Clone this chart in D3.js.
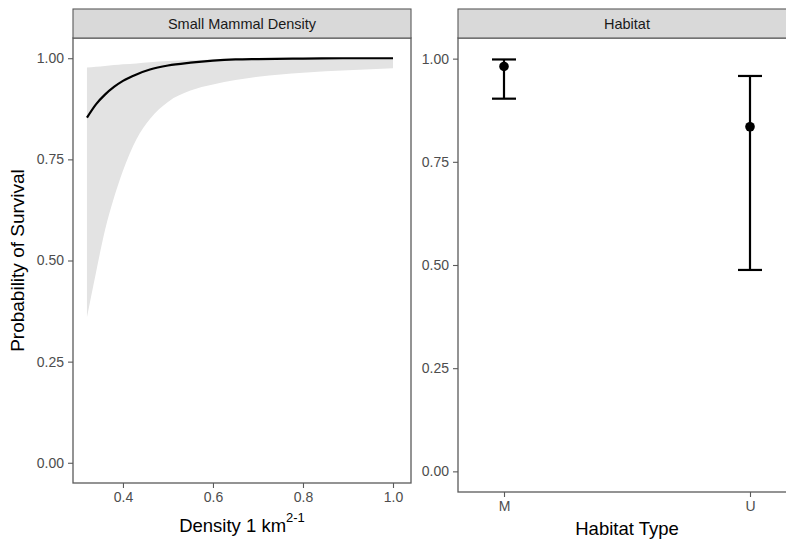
<!DOCTYPE html>
<html>
<head>
<meta charset="utf-8">
<script src="https://cdn.jsdelivr.net/npm/d3@7"></script>
<style>
  html, body { margin: 0; padding: 0; background: #fff; }
  svg { display: block; font-family: "Liberation Sans", Arial, Helvetica, sans-serif; }
</style>
</head>
<body>
<svg id="chart" width="786" height="542"></svg>
<script>
// ---- Data ----
const densityX = [0.32, 0.34, 0.36, 0.38, 0.40, 0.43, 0.46, 0.50, 0.55, 0.60, 0.65, 0.70, 0.80, 0.90, 1.00];
const survivalFit = [0.853, 0.886, 0.910, 0.929, 0.944, 0.960, 0.972, 0.982, 0.989, 0.994, 0.997, 0.998, 0.999, 1.000, 1.000];
const survivalUpper = [0.977, 0.979, 0.981, 0.983, 0.985, 0.987, 0.990, 0.993, 0.995, 0.997, 0.998, 0.999, 1.000, 1.000, 1.000];
const survivalLower = [0.360, 0.470, 0.575, 0.655, 0.722, 0.800, 0.850, 0.892, 0.920, 0.935, 0.946, 0.954, 0.964, 0.970, 0.975];

const habitatTypes = ["M", "U"];
const habitatEstimate = [0.981, 0.835];
const habitatLower = [0.903, 0.488];
const habitatUpper = [0.998, 0.958];

const yTicks = [0, 0.25, 0.5, 0.75, 1.0];
const densityTicks = [0.4, 0.6, 0.8, 1.0];

const stripTitles = ["Small Mammal Density", "Habitat"];

// ---- Setup ----
const svg = d3.select("#chart");
const borderColor = "#5a5a5a";
const tickTextColor = "#4d4d4d";
const fmt = d3.format(".2f");

function drawStrip(x0, x1, y0, y1, label) {
  svg.append("rect").attr("x", x0).attr("y", y0).attr("width", x1 - x0).attr("height", y1 - y0)
    .attr("fill", "#d9d9d9").attr("stroke", borderColor).attr("stroke-width", 1.1);
  svg.append("text").attr("x", (x0 + x1) / 2).attr("y", (y0 + y1) / 2 + 5)
    .attr("text-anchor", "middle").attr("font-size", 14.5).attr("fill", "#1a1a1a").text(label);
}

function styleAxis(g, fontSize) {
  g.selectAll(".domain").remove();
  g.selectAll(".tick line").attr("stroke", borderColor).attr("stroke-width", 1.1);
  g.selectAll(".tick text").attr("fill", tickTextColor).attr("font-size", fontSize)
    .attr("font-family", "\"Liberation Sans\", Arial, Helvetica, sans-serif");
}

// ---- Left panel: Small Mammal Density ----
const L = { x0: 73, x1: 411, y0: 38, y1: 483 };
const xL = d3.scaleLinear().domain([0.289, 1.04]).range([L.x0, L.x1]);
const yL = d3.scaleLinear().domain([-0.05, 1.05]).range([L.y1, L.y0]);

const densData = densityX.map((d, i) => ({ x: d, fit: survivalFit[i], lo: survivalLower[i], hi: survivalUpper[i] }));

svg.append("path").datum(densData)
  .attr("d", d3.area().x(d => xL(d.x)).y0(d => yL(d.lo)).y1(d => yL(d.hi)).curve(d3.curveMonotoneX))
  .attr("fill", "#e3e3e3");
svg.append("path").datum(densData)
  .attr("d", d3.line().x(d => xL(d.x)).y(d => yL(d.fit)).curve(d3.curveMonotoneX))
  .attr("fill", "none").attr("stroke", "#000").attr("stroke-width", 2.2);

svg.append("rect").attr("x", L.x0).attr("y", L.y0).attr("width", L.x1 - L.x0).attr("height", L.y1 - L.y0)
  .attr("fill", "none").attr("stroke", borderColor).attr("stroke-width", 1.3);
drawStrip(L.x0, L.x1, 9, L.y0, stripTitles[0]);

const gyL = svg.append("g").attr("transform", `translate(${L.x0},0)`)
  .call(d3.axisLeft(yL).tickValues(yTicks).tickFormat(fmt).tickSize(5).tickPadding(4));
styleAxis(gyL, 14);
const gxL = svg.append("g").attr("transform", `translate(0,${L.y1})`)
  .call(d3.axisBottom(xL).tickValues(densityTicks).tickFormat(d3.format(".1f")).tickSize(5).tickPadding(4));
styleAxis(gxL, 14);

svg.append("text").attr("transform", `translate(24,${(L.y0 + L.y1) / 2}) rotate(-90)`)
  .attr("text-anchor", "middle").attr("font-size", 19).attr("fill", "#000").text("Probability of Survival");

const xt = svg.append("text").attr("x", (L.x0 + L.x1) / 2).attr("y", 532)
  .attr("text-anchor", "middle").attr("font-size", 18.5).attr("fill", "#000");
xt.append("tspan").text("Density 1 km");
xt.append("tspan").attr("dy", -10).attr("font-size", 13).text("2-1");

// ---- Right panel: Habitat ----
const R = { x0: 458, x1: 796, y0: 38, y1: 492 };
const xR = d3.scalePoint().domain(habitatTypes).range([R.x0, R.x1]).padding(0.187);
const yR = d3.scaleLinear().domain([-0.05, 1.05]).range([R.y1, R.y0]);

const habData = habitatTypes.map((h, i) => ({ h, est: habitatEstimate[i], lo: habitatLower[i], hi: habitatUpper[i] }));
const capHalf = 12;
const eb = svg.append("g").selectAll("g").data(habData).join("g");
eb.append("line").attr("x1", d => xR(d.h)).attr("x2", d => xR(d.h))
  .attr("y1", d => yR(d.lo)).attr("y2", d => yR(d.hi)).attr("stroke", "#000").attr("stroke-width", 2.2);
eb.append("line").attr("x1", d => xR(d.h) - capHalf).attr("x2", d => xR(d.h) + capHalf)
  .attr("y1", d => yR(d.hi)).attr("y2", d => yR(d.hi)).attr("stroke", "#000").attr("stroke-width", 2.2);
eb.append("line").attr("x1", d => xR(d.h) - capHalf).attr("x2", d => xR(d.h) + capHalf)
  .attr("y1", d => yR(d.lo)).attr("y2", d => yR(d.lo)).attr("stroke", "#000").attr("stroke-width", 2.2);
eb.append("circle").attr("cx", d => xR(d.h)).attr("cy", d => yR(d.est)).attr("r", 4.8).attr("fill", "#000");

svg.append("rect").attr("x", R.x0).attr("y", R.y0).attr("width", R.x1 - R.x0).attr("height", R.y1 - R.y0)
  .attr("fill", "none").attr("stroke", borderColor).attr("stroke-width", 1.3);
drawStrip(R.x0, R.x1, 9, R.y0, stripTitles[1]);

const gyR = svg.append("g").attr("transform", `translate(${R.x0},0)`)
  .call(d3.axisLeft(yR).tickValues(yTicks).tickFormat(fmt).tickSize(5).tickPadding(4));
styleAxis(gyR, 14);
const gxR = svg.append("g").attr("transform", `translate(0,${R.y1})`)
  .call(d3.axisBottom(xR).tickSize(5).tickPadding(4));
styleAxis(gxR, 14);

svg.append("text").attr("x", (R.x0 + R.x1) / 2).attr("y", 535)
  .attr("text-anchor", "middle").attr("font-size", 18.5).attr("fill", "#000").text("Habitat Type");
</script>
</body>
</html>
